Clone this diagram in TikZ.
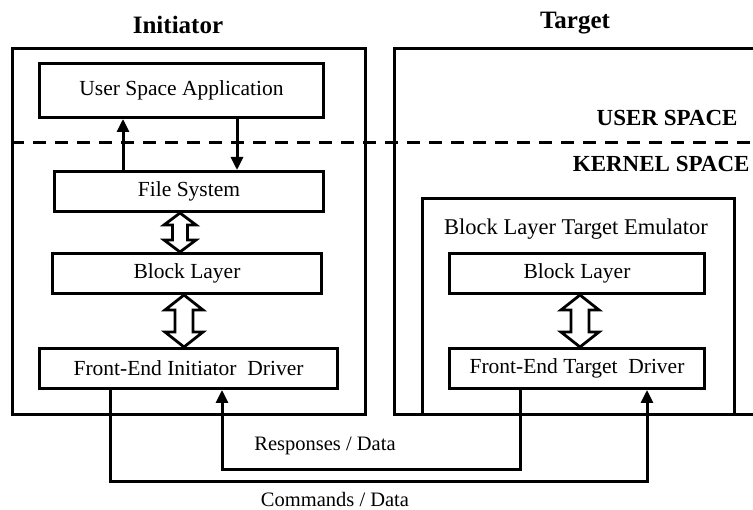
\documentclass[tikz,border=0pt]{standalone}
\usepackage{fontspec}
\setmainfont{Liberation Serif}
\usetikzlibrary{arrows.meta,calc}

% vertical hollow double-headed arrow between two points
% #1 top point, #2 bottom point, #3 half head width, #4 half shaft width, #5 head length
\newcommand\hollowarrow[5]{%
  \draw[fatarrow] let \p1=(#1), \p2=(#2) in
    (\x1,\y1) -- (\x1+#3,\y1-#5) -- (\x1+#4,\y1-#5) -- (\x1+#4,\y2+#5)
    -- (\x1+#3,\y2+#5) -- (\x1,\y2) -- (\x1-#3,\y2+#5) -- (\x1-#4,\y2+#5)
    -- (\x1-#4,\y1-#5) -- (\x1-#3,\y1-#5) -- cycle;}

\begin{document}
\begin{tikzpicture}[x=1pt,y=-1pt,
  frame/.style={draw,line width=3pt,inner sep=0pt,anchor=north west},
  layer/.style={draw,line width=3pt,inner sep=0pt,anchor=north west,
    font=\fontsize{21.5}{24}\selectfont},
  title/.style={font=\bfseries\fontsize{25}{28}\selectfont},
  space/.style={font=\bfseries\fontsize{23}{26}\selectfont,anchor=east},
  flowlabel/.style={font=\fontsize{20.5}{24}\selectfont},
  conn/.style={line width=3pt},
  tip/.style={-{Triangle[length=13pt,width=12pt]}},
  fatarrow/.style={draw,fill=white,line width=2.8pt,line join=miter},
  divider/.style={line width=3pt,dash pattern=on 13pt off 9pt},
]
\clip (0,0) rectangle (753,510);
\fill[white] (0,0) rectangle (753,510);

% titles
\node[title] (inittitle) at (178,25) {Initiator};
\node[title] (targettitle) at (575,23) {Target};

% outer frames
\node[frame,minimum width=353pt,minimum height=366pt] (init) at (11,47) {};
\node[frame,minimum width=420pt,minimum height=366pt] (target) at (393,47) {};

% user / kernel divider
\coordinate (divL) at (11,143);
\coordinate (divR) at (760,143);
\draw[divider] (divL) -- (divR);
\node[space] (userspace) at (741,118) {USER SPACE};
\node[space] (kernelspace) at (753,164) {KERNEL SPACE};

% initiator stack
\node[layer,minimum width=284pt,minimum height=54pt] (app) at (38,62) {User Space Application};
\node[layer,minimum width=269pt,minimum height=40pt] (fs) at (53,170) {File System};
\node[layer,minimum width=269pt,minimum height=40pt] (blI) at (51,252) {Block Layer};
\node[layer,minimum width=298pt,minimum height=40pt] (feid) at (38,347) {Front-End Initiator\ \ Driver};

% target stack
\node[frame,minimum width=312pt,minimum height=216pt] (emu) at (421,197) {};
\node[font=\fontsize{22.5}{25}\selectfont] (emulabel) at (576,229) {Block Layer Target Emulator};
\node[layer,minimum width=255pt,minimum height=40pt] (blT) at (448,252) {Block Layer};
\node[layer,minimum width=255pt,minimum height=40pt] (fetd) at (448,347) {Front-End Target\ \ Driver};

% application <-> file system
\coordinate (up) at ([xshift=70pt]fs.north west);
\coordinate (down) at ([xshift=199pt]app.south west);
\draw[conn,tip] (up) -- (up |- app.south);
\draw[conn,tip] (down) -- (down |- fs.north);

% hollow arrows between layers
\hollowarrow{$(fs.south west)+(127,0)$}{$(blI.north west)+(129,0)$}{16pt}{7.5pt}{12pt}
\hollowarrow{$(blI.south west)+(133,0)$}{$(feid.north west)+(146,0)$}{19pt}{9pt}{15pt}
\hollowarrow{$(blT.south west)+(132,0)$}{$(fetd.north west)+(132,0)$}{19pt}{9pt}{15pt}

% commands: initiator driver -> target driver
\coordinate (cmdA) at ([xshift=72pt]feid.south west);
\coordinate (cmdB) at ([xshift=199pt]fetd.south west);
\coordinate (cmdY) at (0,482);
\draw[conn,tip] (cmdA) -- (cmdA |- cmdY) -| (cmdB);

% responses: target driver -> initiator driver
\coordinate (rspA) at ([xshift=72pt]fetd.south west);
\coordinate (rspB) at ([xshift=184pt]feid.south west);
\coordinate (rspY) at (0,470);
\draw[conn,tip] (rspA) -- (rspA |- rspY) -| (rspB);

\node[flowlabel] (rsplabel) at (325,446) {Responses / Data};
\node[flowlabel] (cmdlabel) at (335,499) {Commands / Data};
\end{tikzpicture}
\end{document}
